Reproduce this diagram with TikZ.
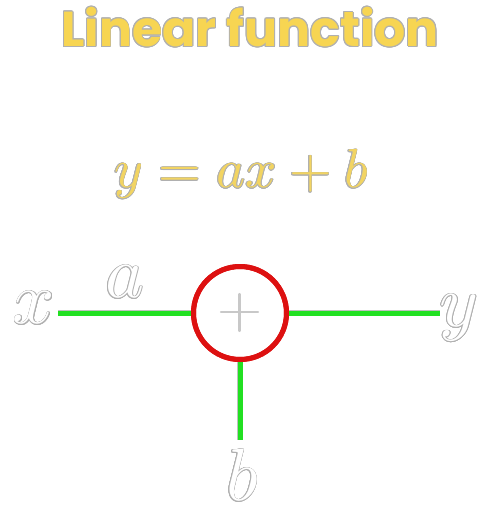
\documentclass[tikz,border=0pt]{standalone}
\usepackage{fontspec}
\usepackage{graphicx}
\newfontfamily\titlefont{Poppins}[UprightFont=* Bold]
\usetikzlibrary{calc}
\definecolor{titleyellow}{HTML}{F7D552}
\definecolor{formulayellow}{HTML}{F2D462}
\definecolor{outlinegray}{HTML}{B0B0B0}
\definecolor{wiregreen}{HTML}{22E022}
\definecolor{ringred}{HTML}{DD1111}
% outlined text: #1 name, #2 position, #3 fill colour, #4 outline radius, #5 content
\newcommand{\otext}[5]{%
  \foreach \ang in {0,22.5,...,337.5}
    \node[inner sep=0pt,text=outlinegray] at ($(#2)+(\ang:#4)$) {#5};
  \node[inner sep=0pt,text=#3] (#1) at (#2) {#5};}
\begin{document}
\begin{tikzpicture}[x=1pt,y=-1pt,
  wire/.style={line width=5pt,wiregreen,line cap=butt},
  wireedge/.style={line width=6.2pt,outlinegray!80},
  ring/.style={circle,draw=ringred,line width=5pt,minimum size=93pt,inner sep=0pt}]
\useasboundingbox (0,0) rectangle (492,507);
\otext{title}{250,27}{titleyellow}{0.9pt}{\titlefont\fontsize{49}{54}\selectfont Linear function}
\otext{formula}{241,174}{formulayellow}{0.6pt}{\scalebox{5.5}{$y=ax+b$}}
\node[ring] (sum) at (240,313) {};
\draw[outlinegray!70,line width=2.2pt,line cap=round] (221,312) -- (258,312) (239.5,294) -- (239.5,331);
\coordinate (xin) at (58,313);
\coordinate (yout) at (440,313);
\coordinate (bin) at (240,440);
\draw[wireedge] (xin) -- (sum.west);
\draw[wire] (xin) -- (sum.west);
\draw[wireedge] (sum.east) -- (yout);
\draw[wire] (sum.east) -- (yout);
\draw[wireedge] (sum.south) -- (bin);
\draw[wire] (sum.south) -- (bin);
\node[ring] at (sum) {};
\otext{xl}{34,308}{white}{0.6pt}{\scalebox{7.4}{$x$}}
\otext{al}{125,282}{white}{0.6pt}{\scalebox{7.4}{$a$}}
\otext{yl}{459,318}{white}{0.6pt}{\scalebox{7.4}{$y$}}
\otext{bl}{242,475}{white}{0.6pt}{\scalebox{7.4}{$b$}}
\end{tikzpicture}
\end{document}
